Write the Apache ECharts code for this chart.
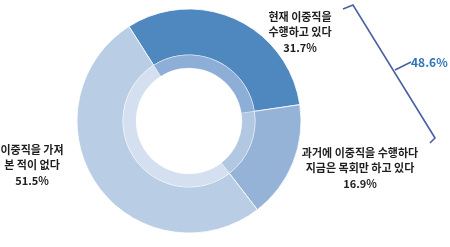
<!DOCTYPE html>
<html><head><meta charset="utf-8">
<script src="https://cdn.jsdelivr.net/npm/echarts@6/dist/echarts.min.js"></script>
<style>html,body{margin:0;padding:0;background:#fff}#c{width:450px;height:247px}</style>
</head><body><div id="c"></div>
<script>
const categories = ['현재 이중직을\n수행하고 있다', '과거에 이중직을 수행하다\n지금은 목회만 하고 있다', '이중직을 가져\n본 적이 없다'];
const values = [31.7, 16.9, 51.5];
const colors = ['#4f87bf', '#95b3d7', '#b9cde5'];
const innerColors = ['#8daed6', '#b2c7e2', '#d4e0ef'];
const bracketValue = values[0] + values[1];

const labelPos = [
  {x: 300, y: 32},
  {x: 360, y: 168},
  {x: 32, y: 165}
];

const chart = echarts.init(document.getElementById('c'), null, {renderer: 'canvas'});
const font = '"Noto Sans CJK KR", "Noto Sans", sans-serif';
const center = [189, 121];
const startAngle = 122.4;

const labelGraphics = categories.map((c, i) => ({
  type: 'text',
  x: labelPos[i].x, y: labelPos[i].y,
  style: {
    text: c + '\n' + values[i].toFixed(1) + '%',
    fontFamily: font, fontSize: 11, fontWeight: 'bold',
    fill: '#1e1e1e', lineHeight: 15.5,
    align: 'center', verticalAlign: 'middle'
  }
}));

chart.setOption({
  animation: false,
  series: [
    {
      type: 'pie',
      center: center,
      radius: [66, 112],
      startAngle: startAngle,
      clockwise: true,
      silent: true,
      itemStyle: {borderColor: 'rgba(255,255,255,0.8)', borderWidth: 1},
      data: categories.map((c, i) => ({name: c, value: values[i], itemStyle: {color: colors[i]}})),
      label: {show: false},
      labelLine: {show: false}
    },
    {
      type: 'pie',
      center: center,
      radius: [53, 66],
      startAngle: startAngle,
      clockwise: true,
      silent: true,
      itemStyle: {borderColor: 'rgba(255,255,255,0.5)', borderWidth: 0.5},
      label: {show: false},
      labelLine: {show: false},
      data: categories.map((c, i) => ({name: c, value: values[i], itemStyle: {color: innerColors[i]}}))
    }
  ],
  graphic: labelGraphics.concat([
    {
      type: 'polyline',
      shape: {points: [[343, 9], [353, 5], [435, 138], [430, 143]]},
      style: {stroke: '#4a62a3', lineWidth: 1.6, fill: null}
    },
    {
      type: 'polyline',
      shape: {points: [[395, 70], [411, 62]]},
      style: {stroke: '#4a62a3', lineWidth: 1.6, fill: null}
    },
    {
      type: 'text',
      x: 411, y: 62,
      style: {
        text: bracketValue.toFixed(1) + '%',
        fontFamily: font, fontSize: 12, fontWeight: 'bold',
        fill: '#2e75b6', verticalAlign: 'middle', align: 'left'
      }
    }
  ])
});
</script>
</body></html>
